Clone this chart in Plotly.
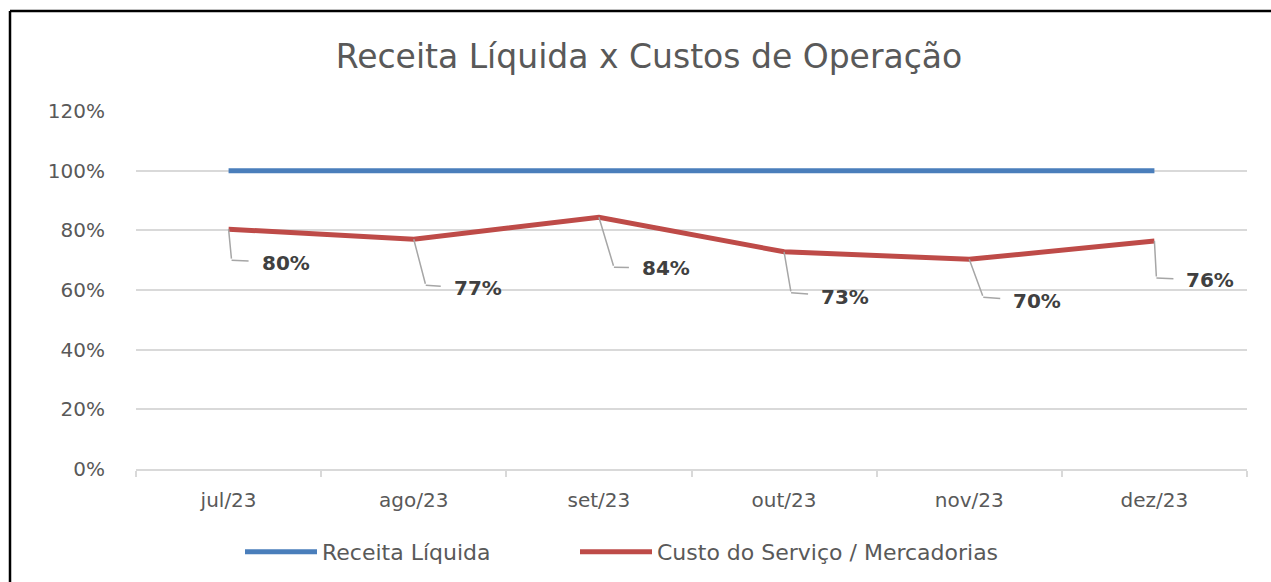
import plotly.graph_objects as go

# ---- data ----
months = ["jul/23", "ago/23", "set/23", "out/23", "nov/23", "dez/23"]
receita_liquida = [100, 100, 100, 100, 100, 100]
custo_servico = [80.4, 77.0, 84.4, 72.8, 70.3, 76.4]
y_tick_vals = [0, 20, 40, 60, 80, 100, 120]
y_tick_text = ["0%", "20%", "40%", "60%", "80%", "100%", "120%"]

# ---- label leader-line layout (pixels): elbow dx, elbow dy, text dx, text dy ----
label_layout = [
    (3, 31, 54, 3),
    (12, 46, 52, 3),
    (15, 50, 52, 1),
    (7, 41, 54, 4),
    (14, 38, 54, 4),
    (2, 37, 54, 2),
]

FONT = "DejaVu Sans"
GRAY = "#595959"
GRID = "#d9d9d9"
W, H = 1271, 582

# target pixel geometry of the plot area
PL, PR, PT, PB = 136, 1247, 111, 469
pw = PR - PL
ph = PB - PT


def px_x(p):  # pixel x -> paper
    return (p - PL) / pw


def px_y(p):  # pixel y -> paper
    return (PB - p) / ph


fig = go.Figure()
fig.add_trace(go.Scatter(
    x=months, y=receita_liquida, mode="lines", name="Receita Líquida",
    line=dict(color="#4a7ebb", width=5), legend="legend", showlegend=True,
))
fig.add_trace(go.Scatter(
    x=months, y=custo_servico, mode="lines", name="Custo do Serviço / Mercadorias",
    line=dict(color="#be4b48", width=5), legend="legend2", showlegend=True,
))

annotations = []
for m, v, (edx, edy, tdx, tdy) in zip(months, custo_servico, label_layout):
    annotations.append(dict(
        x=m, y=v, xref="x", yref="y", text="", showarrow=True,
        ax=edx, ay=edy, arrowhead=0, arrowwidth=1.5, arrowcolor="#a6a6a6",
        standoff=0, startstandoff=0,
    ))
    annotations.append(dict(
        x=m, y=v, xref="x", yref="y", xshift=edx, yshift=-edy,
        text=f"{v:.0f}%", showarrow=True, ax=tdx, ay=tdy,
        arrowhead=0, arrowwidth=1.5, arrowcolor="#a6a6a6",
        standoff=0, borderpad=13, borderwidth=0,
        font=dict(family=FONT, size=20, color="#404040", weight="bold"),
    ))

legend_common = dict(
    orientation="h", xref="container", xanchor="left",
    y=1 - 552 / H, yref="container", yanchor="middle",
    font=dict(family=FONT, size=22, color=GRAY),
    itemwidth=72, visible=True,
)

fig.update_layout(
    width=W, height=H,
    showlegend=True,
    margin=dict(l=PL, r=W - PR, t=PT, b=H - PB),
    paper_bgcolor="white", plot_bgcolor="white",
    title=dict(
        text="Receita Líquida x Custos de Operação",
        x=649 / W, xref="container", xanchor="center",
        y=1 - 56 / H, yref="container", yanchor="middle",
        font=dict(family=FONT, size=33, color=GRAY),
    ),
    xaxis=dict(
        type="category", range=[-0.5, 5.5],
        showgrid=False, showline=True, linecolor=GRID, linewidth=1.5,
        ticks="outside", tickson="boundaries", ticklen=6, tickcolor=GRID, tickwidth=1.5,
        ticklabelstandoff=12,
        tickfont=dict(family=FONT, size=20, color=GRAY),
    ),
    yaxis=dict(
        range=[0, 120], tickvals=y_tick_vals, ticktext=y_tick_text,
        showgrid=True, gridcolor=GRID, gridwidth=1.5, zeroline=False,
        showline=False, ticks="", ticklabelstandoff=30,
        tickfont=dict(family=FONT, size=20, color=GRAY),
    ),
    legend=dict(x=240 / W, **legend_common),
    legend2=dict(x=575 / W, **legend_common),
    annotations=annotations,
    shapes=[
        dict(type="line", xref="paper", yref="paper",
             x0=px_x(10), x1=1.1, y0=px_y(11), y1=px_y(11),
             line=dict(color="black", width=2.5)),
        dict(type="line", xref="paper", yref="paper",
             x0=px_x(10), x1=px_x(10), y0=px_y(11), y1=-0.4,
             line=dict(color="black", width=2.5)),
    ],
)

fig.write_html(
    "out.html",
    config={"displayModeBar": False},
    post_script="document.body.style.margin='0';document.body.style.overflow='hidden';",
)
